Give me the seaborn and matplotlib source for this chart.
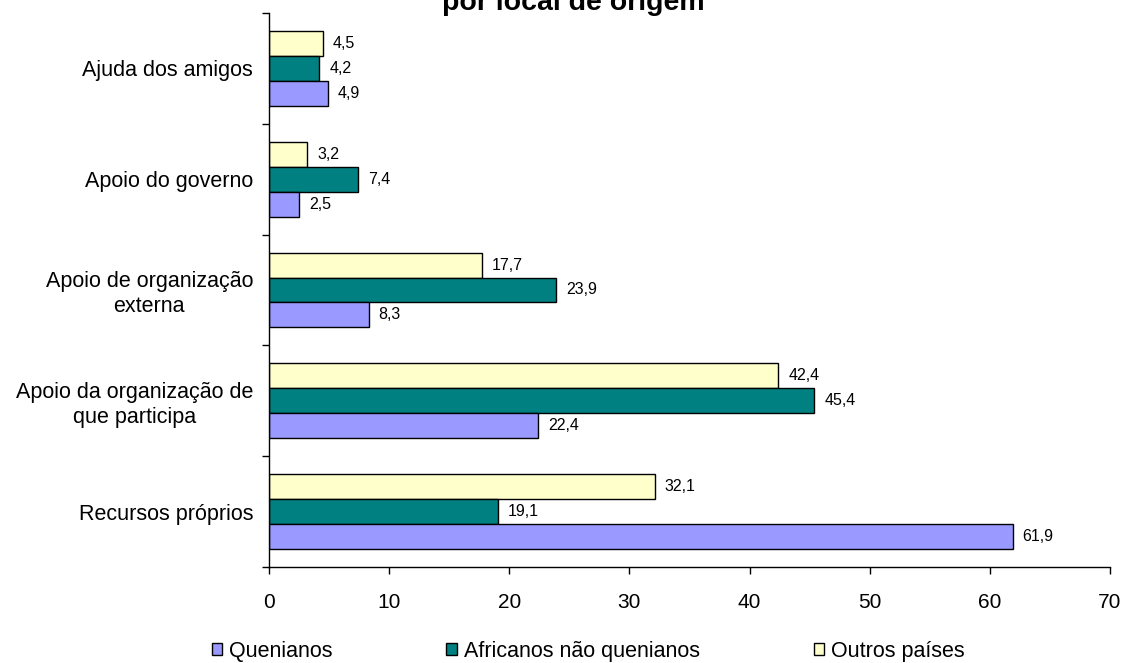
import matplotlib
matplotlib.use("Agg")
import matplotlib.pyplot as plt
from matplotlib.patches import Patch
from matplotlib.ticker import FixedLocator
import seaborn as sns
import pandas as pd

categories = [
    "Ajuda dos amigos",
    "Apoio do governo",
    "Apoio de organização\nexterna",
    "Apoio da organização de\nque participa",
    "Recursos próprios",
]
series_names = ["Quenianos", "Africanos não quenianos", "Outros países"]
quenianos = [4.9, 2.5, 8.3, 22.4, 61.9]
africanos = [4.2, 7.4, 23.9, 45.4, 19.1]
outros = [4.5, 3.2, 17.7, 42.4, 32.1]
x_ticks = [0, 10, 20, 30, 40, 50, 60, 70]

colors = {"Quenianos": "#9999FF", "Africanos não quenianos": "#008080", "Outros países": "#FFFFCC"}

rows = []
for name, vals in zip(series_names, [quenianos, africanos, outros]):
    for cat, v in zip(categories, vals):
        rows.append({"categoria": cat, "grupo": name, "valor": v})
df = pd.DataFrame(rows)

sns.set_theme(style="white")
plt.rcParams["font.family"] = ["Liberation Sans", "DejaVu Sans"]
plt.rcParams["text.color"] = "black"
plt.rcParams["xtick.color"] = "black"
plt.rcParams["ytick.color"] = "black"
plt.rcParams["xtick.labelcolor"] = "black"
plt.rcParams["ytick.labelcolor"] = "black"

fig = plt.figure(figsize=(11.25, 6.63), dpi=100)
ax = fig.add_axes([269 / 1125, 1 - 567 / 663, (1110 - 269) / 1125, (567 - 13) / 663])

hue_order = ["Outros países", "Africanos não quenianos", "Quenianos"]
sns.barplot(
    data=df, y="categoria", x="valor", hue="grupo", hue_order=hue_order,
    order=categories, palette=colors, orient="h", width=0.676, gap=0,
    saturation=1, edgecolor="black", linewidth=1.0, legend=False, ax=ax,
)

# value labels to the right of each bar
for container in ax.containers:
    for bar in container:
        w = bar.get_width()
        ax.annotate(f"{w:.1f}".replace(".", ","),
                    xy=(w, bar.get_y() + bar.get_height() / 2),
                    xytext=(7, 0), textcoords="offset points",
                    ha="left", va="center", fontsize=11.5, color="black")

ax.set_xlim(0, 70)
ax.set_ylim(4.5, -0.5)
ax.set_xticks(x_ticks)
ax.set_xticklabels([str(t) for t in x_ticks], fontsize=15)
ax.set_yticks(range(len(categories)))
ax.set_yticklabels(categories, fontsize=15.5, multialignment="center")
ax.yaxis.set_minor_locator(FixedLocator([i - 0.5 for i in range(len(categories) + 1)]))
ax.tick_params(axis="y", which="major", length=0, pad=11.5)
ax.tick_params(axis="y", which="minor", length=5, width=1, direction="out", color="black", left=True)
ax.tick_params(axis="x", which="major", length=5, width=1, direction="out", color="black", bottom=True, pad=14)
ax.set_xlabel("")
ax.set_ylabel("")
for s in ["top", "right"]:
    ax.spines[s].set_visible(False)
for s in ["left", "bottom"]:
    ax.spines[s].set_color("black")
    ax.spines[s].set_linewidth(1)

fig.text(573 / 1125, 1 - 10 / 663, "por local de origem", ha="center", va="baseline",
         fontsize=20.5, fontweight="bold", color="black")

handles = [Patch(facecolor=colors[n], edgecolor="black", linewidth=1) for n in series_names]
fig.legend(handles, series_names, loc="center", bbox_to_anchor=(588 / 1125, 12 / 663),
           ncol=3, frameon=False, fontsize=15.5, handlelength=0.5, handleheight=0.5,
           handletextpad=0.3, columnspacing=5.3)

fig.savefig("out.png", dpi=100)
